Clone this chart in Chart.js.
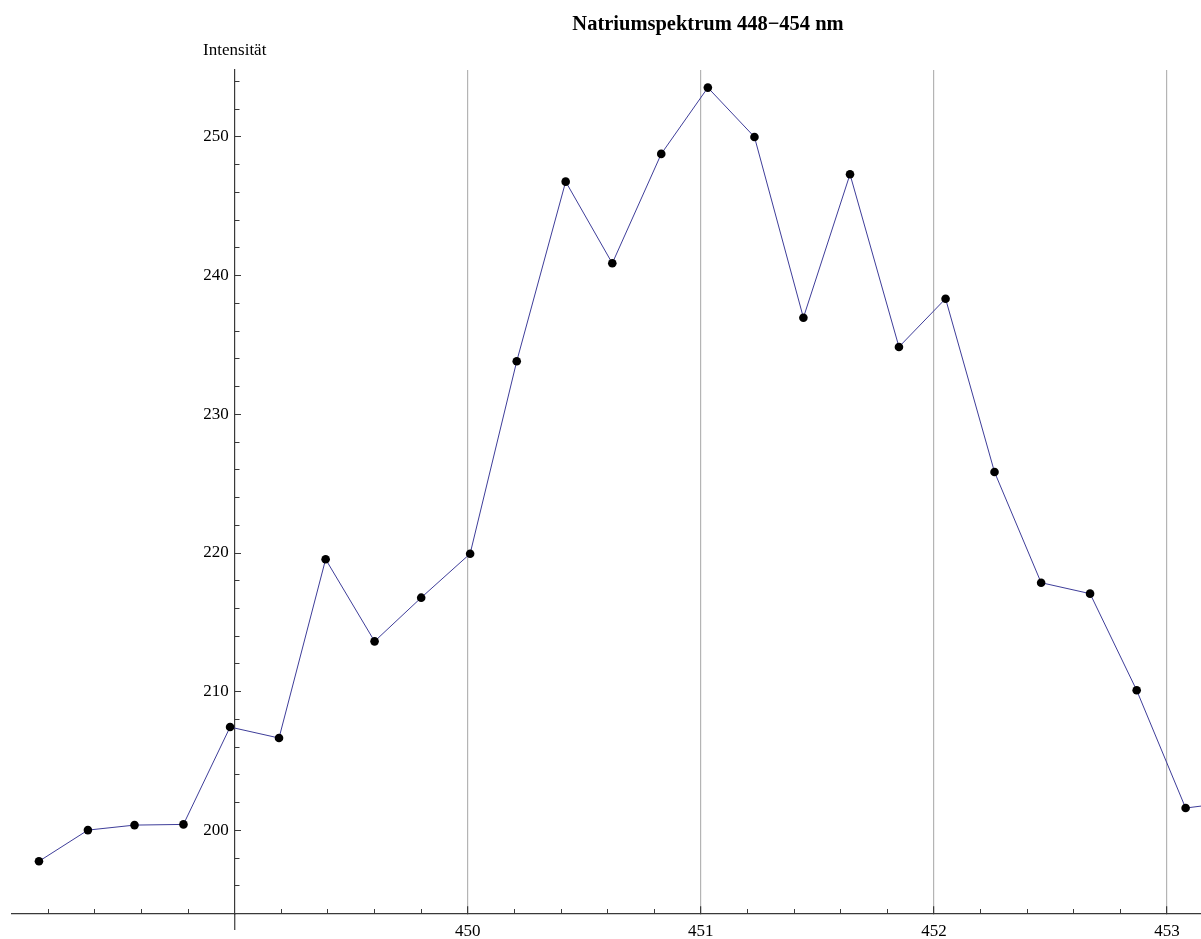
<!DOCTYPE html>
<html>
<head>
<meta charset="utf-8">
<title>Natriumspektrum 448-454 nm</title>
<script src="https://cdn.jsdelivr.net/npm/chart.js@4/dist/chart.umd.min.js"></script>
<style>
  html, body { margin: 0; padding: 0; background: #fff; }
  canvas { display: block; }
</style>
</head>
<body>
<canvas id="spektrum" width="1201" height="939"></canvas>
<script>
// Messwerte (Wellenlänge in nm, Intensität)
const wellenlaenge = [448.16, 448.37, 448.57, 448.78, 448.98, 449.19, 449.39, 449.60, 449.80, 450.01,
                      450.21, 450.42, 450.62, 450.83, 451.03, 451.23, 451.44, 451.64, 451.85, 452.05,
                      452.26, 452.46, 452.67, 452.87, 453.08, 453.28];
const intensitaet = [197.77, 200.02, 200.38, 200.43, 207.45, 206.66, 219.55, 213.63, 216.78, 219.95,
                     233.83, 246.78, 240.89, 248.78, 253.56, 250.00, 236.97, 247.31, 234.86, 238.34,
                     225.84, 217.86, 217.07, 210.10, 201.61, 202.04];

// Achsen
const xBereich = [448.043, 453.146];
const yBereich = [193.97, 254.83];
const achsenKreuz = { x: 449, y: 193.97 };
const xHauptTicks = [450, 451, 452, 453];
const yHauptTicks = [200, 210, 220, 230, 240, 250];

const titel = 'Natriumspektrum 448\u2212454 nm';
const yTitel = 'Intensität';

const schrift = "'Liberation Serif', 'Times New Roman', serif";
const achsenFarbe = '#3a3a3a';

const punkte = wellenlaenge.map((w, i) => ({ x: w, y: intensitaet[i] }));

// Titel, Achsenbeschriftung und Verlängerung der y-Achse unter die x-Achse
const beschriftung = {
  id: 'beschriftung',
  afterDraw(chart) {
    const ctx = chart.ctx;
    const area = chart.chartArea;
    const ax = chart.scales.x.getPixelForValue(achsenKreuz.x);
    ctx.save();
    ctx.strokeStyle = achsenFarbe;
    ctx.lineWidth = 1.2;
    ctx.beginPath();
    ctx.moveTo(ax, area.bottom);
    ctx.lineTo(ax, area.bottom + 16);
    ctx.stroke();

    ctx.fillStyle = '#000';
    ctx.textAlign = 'center';
    ctx.textBaseline = 'alphabetic';
    ctx.font = 'bold 20.5px ' + schrift;
    ctx.fillText(titel, 708, 30);
    ctx.font = '17px ' + schrift;
    ctx.fillText(yTitel, ax, 55);
    ctx.restore();
  }
};

new Chart(document.getElementById('spektrum'), {
  type: 'scatter',
  data: {
    datasets: [{
      data: punkte,
      showLine: true,
      borderColor: 'rgb(62, 61, 153)',
      borderWidth: 1,
      pointBackgroundColor: '#000',
      pointBorderColor: '#000',
      pointRadius: 4.3,
      pointBorderWidth: 0,
      xAxisID: 'x',
      yAxisID: 'y'
    }]
  },
  options: {
    responsive: false,
    animation: false,
    devicePixelRatio: 1,
    layout: { autoPadding: false, padding: { left: 11.7, right: 0, top: 70, bottom: 25 } },
    plugins: {
      legend: { display: false },
      tooltip: { enabled: false },
      title: { display: false }
    },
    scales: {
      x: {
        type: 'linear',
        min: xBereich[0],
        max: xBereich[1],
        position: { y: achsenKreuz.y },
        afterBuildTicks: (s) => { s.ticks = xHauptTicks.map(v => ({ value: v })); },
        border: { color: achsenFarbe, width: 1.2 },
        grid: {
          color: '#b4b4b4',
          lineWidth: 1.2,
          tickColor: achsenFarbe,
          tickLength: -8
        },
        ticks: {
          color: '#000',
          font: { family: schrift, size: 17 },
          padding: 15,
          maxRotation: 0,
          autoSkip: false
        }
      },
      xNeben: {
        type: 'linear',
        min: xBereich[0],
        max: xBereich[1],
        position: { y: achsenKreuz.y },
        border: { display: false },
        grid: { drawOnChartArea: false, tickColor: achsenFarbe, tickLength: -5 },
        ticks: { display: false, stepSize: 0.2, includeBounds: false, autoSkip: false }
      },
      y: {
        type: 'linear',
        min: yBereich[0],
        max: yBereich[1],
        position: { x: achsenKreuz.x },
        afterBuildTicks: (s) => { s.ticks = yHauptTicks.map(v => ({ value: v })); },
        border: { color: achsenFarbe, width: 1.2 },
        grid: { drawOnChartArea: false, tickColor: achsenFarbe, tickLength: -7 },
        ticks: { display: false }
      },
      yNeben: {
        type: 'linear',
        min: yBereich[0],
        max: yBereich[1],
        position: { x: achsenKreuz.x },
        border: { display: false },
        grid: { drawOnChartArea: false, tickColor: achsenFarbe, tickLength: -4.5 },
        ticks: { display: false, stepSize: 2, includeBounds: false, autoSkip: false }
      },
      yText: {
        type: 'linear',
        min: yBereich[0],
        max: yBereich[1],
        position: { x: achsenKreuz.x - 6 / 233.1 },
        afterBuildTicks: (s) => { s.ticks = yHauptTicks.map(v => ({ value: v })); },
        border: { display: false },
        grid: { display: false },
        ticks: { color: '#000', font: { family: schrift, size: 17 } }
      }
    }
  },
  plugins: [beschriftung]
});
</script>
</body>
</html>
